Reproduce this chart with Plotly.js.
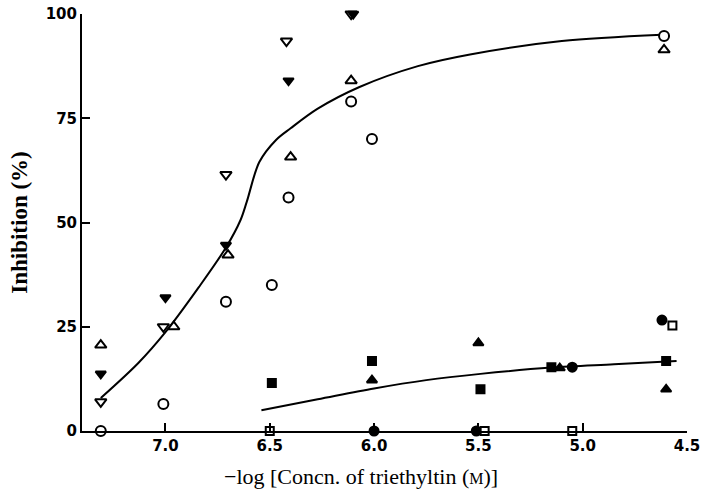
<!DOCTYPE html>
<html>
<head>
<meta charset="utf-8">
<script src="https://cdn.plot.ly/plotly-3.0.1.min.js"></script>
<style>html,body{margin:0;padding:0;background:#fff;}#chart{width:701px;height:490px;}</style>
</head>
<body>
<div id="chart"></div>
<script>
// Data
const openDownX = [7.31, 7.01, 6.71, 6.42, 6.11];
const openDownY = [7, 25, 61.5, 93.5, 100];
const filledDownX = [7.31, 7.00, 6.71, 6.41, 6.10];
const filledDownY = [13.7, 32, 44.6, 84, 100];
const openUpX = [7.31, 6.96, 6.70, 6.40, 6.11, 4.61];
const openUpY = [20.6, 25, 42.2, 65.7, 84, 91.4];
const openCircleX = [7.31, 7.01, 6.71, 6.49, 6.41, 6.11, 6.01, 4.61];
const openCircleY = [0, 6.5, 31, 35, 56, 79, 70, 94.7];
const filledSquareX = [6.49, 6.01, 5.49, 5.15, 4.60];
const filledSquareY = [11.5, 16.8, 10, 15.3, 16.8];
const filledUpX = [6.01, 5.50, 5.11, 4.60];
const filledUpY = [12.2, 21.1, 15.1, 10];
const filledCircleX = [6.00, 5.51, 5.05, 4.62];
const filledCircleY = [0, 0, 15.3, 26.6];
const openSquareX = [6.50, 5.47, 5.05, 4.57];
const openSquareY = [0, 0, 0, 25.3];
const upperCurveX = [7.31, 7.13, 7.00, 6.84, 6.71, 6.64, 6.61, 6.55, 6.47, 6.40, 6.27, 6.07, 5.79, 5.54, 5.10, 4.62];
const upperCurveY = [7.9, 16.3, 23.7, 34.5, 44, 50.6, 55, 64.5, 69.8, 72.6, 77.3, 82.5, 87.5, 90.3, 93.5, 95];
const lowerCurveX = [6.54, 6.27, 6.00, 5.75, 5.49, 5.15, 4.85, 4.55];
const lowerCurveY = [5, 7.6, 10.2, 12.2, 13.7, 15.2, 16.0, 16.8];
const xTicks = [7.0, 6.5, 6.0, 5.5, 5.0, 4.5];
const xTickText = ['7.0', '6.5', '6.0', '5.5', '5.0', '4.5'];
const yTicks = [0, 25, 50, 75, 100];
const yTickText = ['0', '25', '50', '75', '100'];

function curve(x, y) {
  return {x: x, y: y, type: 'scatter', mode: 'lines', cliponaxis: false, hoverinfo: 'skip',
    line: {color: '#000', width: 2, shape: 'spline', smoothing: 0.9}, showlegend: false};
}
// hollow markers are drawn with a white fill so lines behind them are hidden
function pts(x, y, symbol, hollow, size) {
  return {x: x, y: y, type: 'scatter', mode: 'markers', cliponaxis: false, showlegend: false,
    marker: {symbol: symbol, size: size, color: hollow ? '#fff' : '#000',
      line: {color: '#000', width: 2}}};
}

const data = [
  curve(upperCurveX, upperCurveY),
  curve(lowerCurveX, lowerCurveY),
  pts(openDownX, openDownY, 'triangle-down', true, 10),
  pts(filledDownX, filledDownY, 'triangle-down', false, 9),
  pts(openUpX, openUpY, 'triangle-up', true, 10),
  pts(openCircleX, openCircleY, 'circle', true, 10),
  pts(filledSquareX, filledSquareY, 'square', false, 8),
  pts(filledUpX, filledUpY, 'triangle-up', false, 9),
  pts(filledCircleX, filledCircleY, 'circle', false, 9),
  pts(openSquareX, openSquareY, 'square', true, 8)
];

const layout = {
  width: 701, height: 490,
  margin: {l: 82, r: 14, t: 14, b: 59},
  paper_bgcolor: '#fff', plot_bgcolor: '#fff',
  showlegend: false,
  xaxis: {
    range: [7.40, 4.5], tickvals: xTicks, ticktext: xTickText,
    showgrid: false, zeroline: false, showline: true, linecolor: '#000', linewidth: 2,
    ticks: 'inside', ticklen: 8, tickwidth: 2, tickcolor: '#000',
    tickfont: {family: 'DejaVu Sans', size: 15, color: '#000', weight: 'bold'}
  },
  yaxis: {
    range: [0, 100], tickvals: yTicks, ticktext: yTickText,
    showgrid: false, zeroline: false, showline: true, linecolor: '#000', linewidth: 2,
    ticks: 'inside', ticklen: 8, tickwidth: 2, tickcolor: '#000',
    tickfont: {family: 'DejaVu Sans', size: 15, color: '#000', weight: 'bold'},
    title: {text: 'Inhibition (%)', standoff: 12,
      font: {family: 'Liberation Serif', size: 23, color: '#000', weight: 'bold'}}
  },
  annotations: [{
    text: '\u2212log [Concn. of triethyltin (<span style="font-size:16px">M</span>)]',
    xref: 'paper', yref: 'paper', x: 0.461, y: -0.108, xanchor: 'center', yanchor: 'middle',
    showarrow: false, font: {family: 'Liberation Serif', size: 22, color: '#000'}
  }]
};
Plotly.newPlot('chart', data, layout, {displayModeBar: false, staticPlot: true});
</script>
</body>
</html>
